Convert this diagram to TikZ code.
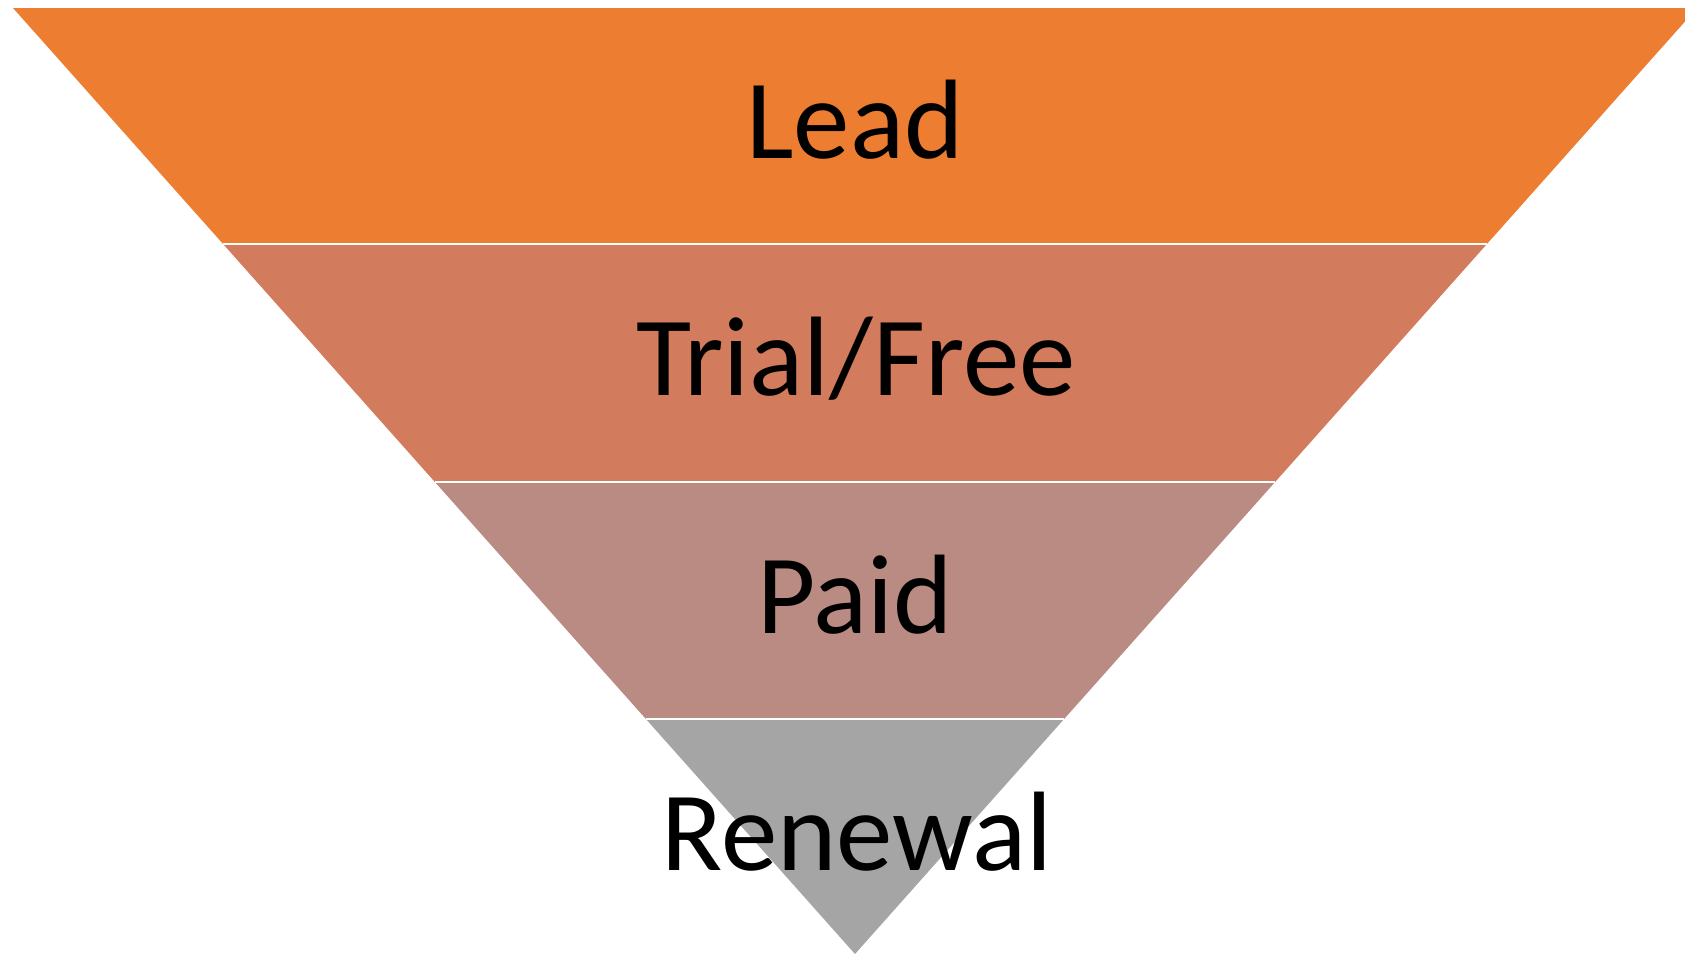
\documentclass[tikz,border=0pt]{standalone}
\usepackage{fontspec}
\setmainfont{Carlito}
\definecolor{leadc}{HTML}{ED7D31}
\definecolor{trialc}{HTML}{D37B5D}
\definecolor{paidc}{HTML}{BA8B82}
\definecolor{renewc}{HTML}{A5A5A5}
\tikzset{
  label/.style={anchor=base, inner sep=0pt, font=\fontsize{113}{120}\selectfont, text=black},
  divider/.style={draw=white, line width=2.5pt}
}
\begin{document}
\begin{tikzpicture}[x=1pt, y=-1pt]
\useasboundingbox (0,0) rectangle (1685,954);
\clip (0,0) rectangle (1685,954);
% funnel outline points
\coordinate (tl) at (13,8);
\coordinate (tr) at (1697,8);
\coordinate (l1) at (223.1,244);
\coordinate (r1) at (1486.9,244);
\coordinate (l2) at (434.9,482);
\coordinate (r2) at (1275.1,482);
\coordinate (l3) at (645.9,719);
\coordinate (r3) at (1064.1,719);
\coordinate (apex) at (855,954);
% bands
\fill[leadc] (tl) -- (tr) -- (r1) -- (l1) -- cycle;
\fill[trialc] (l1) -- (r1) -- (r2) -- (l2) -- cycle;
\fill[paidc] (l2) -- (r2) -- (r3) -- (l3) -- cycle;
\fill[renewc] (l3) -- (r3) -- (apex) -- cycle;
% white dividers
\draw[divider] (l1) -- (r1);
\draw[divider] (l2) -- (r2);
\draw[divider] (l3) -- (r3);
% labels
\node[label] (lead) at (855,158) {Lead};
\node[label] (trial) at (856,395) {Trial/Free};
\node[label] (paid) at (855,633) {Paid};
\node[label] (renewal) at (857,870) {Renewal};
\end{tikzpicture}
\end{document}
